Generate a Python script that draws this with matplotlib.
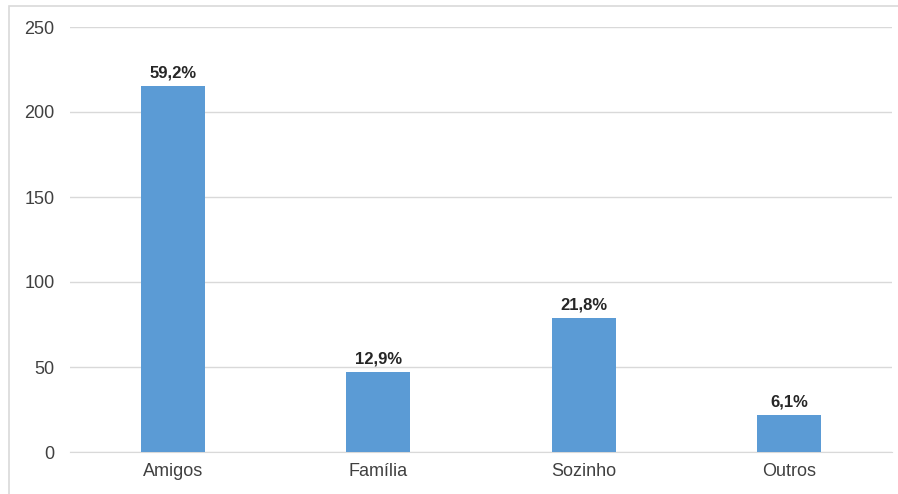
import matplotlib.pyplot as plt
from matplotlib.patches import Rectangle

# data
categories = ["Amigos", "Família", "Sozinho", "Outros"]
counts = [215, 47, 79, 22]
percent_labels = ["59,2%", "12,9%", "21,8%", "6,1%"]

plt.rcParams['font.family'] = ['Liberation Sans', 'DejaVu Sans']

fig = plt.figure(figsize=(8.98, 4.94), dpi=100)
W, H = 898, 494
ax = fig.add_axes([70 / W, 1 - 452 / H, (892 - 70) / W, (452 - 27) / H])

x = range(len(categories))
bars = ax.bar(x, counts, width=0.31, color="#5b9bd5", zorder=3)

for bar, lab in zip(bars, percent_labels):
    ax.annotate(lab, (bar.get_x() + bar.get_width() / 2, bar.get_height()),
                xytext=(0, 4), textcoords="offset points", ha="center", va="bottom",
                fontsize=12, fontweight="bold", color="#262626")

ax.set_xlim(-0.5, len(categories) - 0.5)
ax.set_ylim(0, 250)
ax.set_yticks(range(0, 251, 50))
ax.set_xticks(list(x))
ax.set_xticklabels(categories)

# gridlines and axis styling
ax.yaxis.grid(True, color="#d9d9d9", linewidth=1, zorder=0)
for s in ["top", "right", "left"]:
    ax.spines[s].set_visible(False)
ax.spines["bottom"].set_color("#d9d9d9")
ax.tick_params(axis="both", length=0, labelsize=13, labelcolor="#404040")
ax.tick_params(axis="y", pad=11)
ax.tick_params(axis="x", pad=8)

# light border around the chart area
fig.patches.append(Rectangle((9 / W, -0.1), 1.2, 1 - 6 / H + 0.1, transform=fig.transFigure,
                             fill=False, edgecolor="#d9d9d9", linewidth=1.2))

fig.savefig("out.png", dpi=100)
